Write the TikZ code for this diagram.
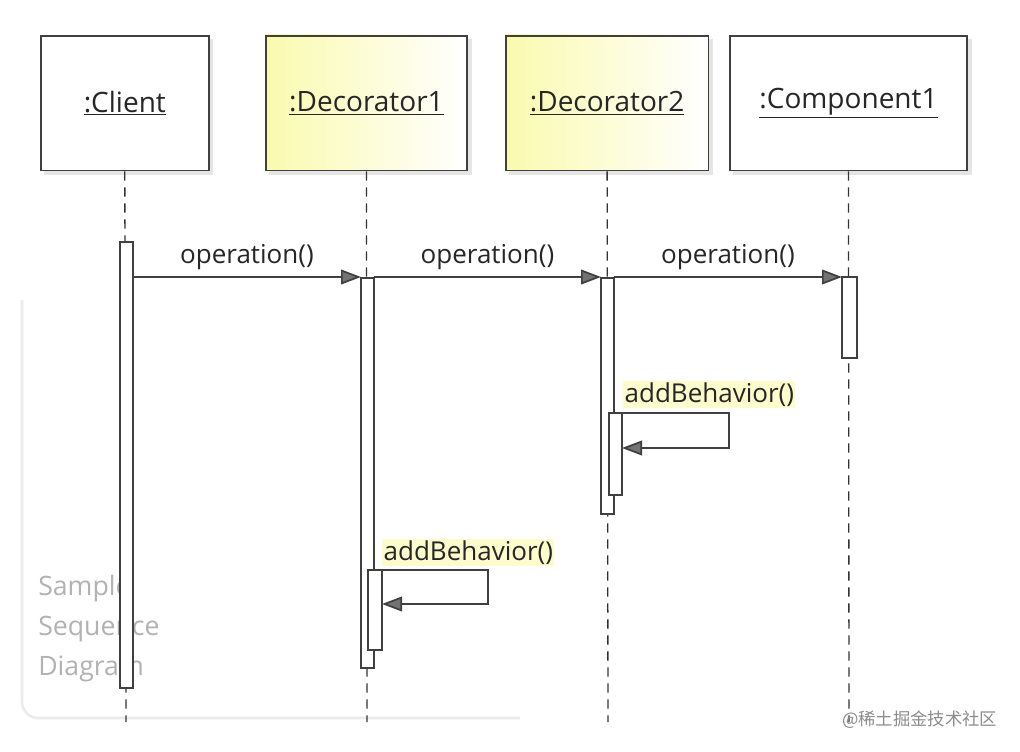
\documentclass[tikz,border=0pt]{standalone}
\usepackage{fontspec}
\setmainfont{Open Sans}
\newfontfamily\cjk{Noto Sans CJK SC}
\usetikzlibrary{arrows.meta}
\definecolor{ylw}{RGB}{250,250,175}
\definecolor{hl}{RGB}{252,252,205}
\tikzset{
 obj/.style={draw=black!75,line width=1.2pt},
 life/.style={draw=black!80,dashed,dash pattern=on 7pt off 5pt,line width=1pt},
 act/.style={draw=black!75,fill=white,line width=1pt},
 msg/.style={draw=black!75,line width=1.3pt,-{Triangle[length=15pt,width=11pt,fill=black!55]}},
 lbl/.style={font=\fontsize{19.5}{22}\selectfont,text=black!85,inner sep=1pt},
 ttl/.style={font=\fontsize{21}{24}\selectfont,text=black!85}
}
\begin{document}
\begin{tikzpicture}[x=0.75pt,y=-0.75pt]
\useasboundingbox (0,0) rectangle (1020,752);
\fill[white] (0,0) rectangle (1020,752);
\draw[black!8,line width=2pt,rounded corners=12pt] (22,300) -- (22,718) -- (520,718);
\foreach \a/\b in {40/208,265/467,505/708,729/967}{
 \fill[black!10] (\a+4,39) rectangle (\b+5,175);}
\node[obj,fill=white,minimum width=126pt,minimum height=101pt,anchor=north west] (cl) at (40,35) {};
\shade[left color=ylw,right color=white] (265,35) rectangle (467,170);
\node[obj,minimum width=151pt,minimum height=101pt,anchor=north west] (d1) at (265,35) {};
\shade[left color=ylw,right color=white] (505,35) rectangle (708,170);
\node[obj,minimum width=152pt,minimum height=101pt,anchor=north west] (d2) at (505,35) {};
\node[obj,fill=white,minimum width=178pt,minimum height=101pt,anchor=north west] (c1) at (729,35) {};
\node[ttl] at (cl.center) {\underline{:Client}};
\node[ttl] at (d1.center) {\underline{:Decorator1}};
\node[ttl] at (d2.center) {\underline{:Decorator2}};
\node[ttl] at (c1.center) {\underline{:Component1}};
\coordinate (e1) at (126,722); \coordinate (e2) at (367,722);
\coordinate (e3) at (608,722); \coordinate (e4) at (849,722);
\draw[life] (cl.south) -- (e1);
\draw[life] (d1.south) -- (e2);
\draw[life] (d2.south) -- (e3);
\draw[life] (c1.south) -- (e4);
\node[font=\fontsize{20}{30}\selectfont,text=black!30,align=left,anchor=north west,inner sep=0pt] (smp) at (38,575) {Sample\\Sequence\\Diagram};
\draw[act] (120,242) rectangle (133,688);
\draw[act] (361,278) rectangle (374,668);
\draw[act] (601,278) rectangle (614,514);
\draw[act] (842,277) rectangle (857,358);
\draw[act] (609,413) rectangle (622,495);
\draw[act] (368,570) rectangle (382,650);
\coordinate (a1) at (133,277); \coordinate (b1) at (361,277);
\coordinate (a2) at (374,277); \coordinate (b2) at (601,277);
\coordinate (a3) at (614,277); \coordinate (b3) at (842,277);
\draw[msg] (a1) -- node[lbl,above=4pt] {operation()} (b1);
\draw[msg] (a2) -- node[lbl,above=4pt] {operation()} (b2);
\draw[msg] (a3) -- node[lbl,above=4pt] {operation()} (b3);
\coordinate (s1) at (622,413); \coordinate (t1) at (622,448);
\draw[msg] (s1) -- (729,413) -- (729,448) -- (t1);
\node[lbl,fill=hl,anchor=south west] at (623,408) {addBehavior()};
\coordinate (s2) at (382,570); \coordinate (t2) at (382,604);
\draw[msg] (s2) -- (488,570) -- (488,604) -- (t2);
\node[lbl,fill=hl,anchor=south west] at (382,566) {addBehavior()};
\node[text=black!45,font=\cjk\fontsize{13}{15}\selectfont,anchor=east] at (1002,720) {@稀土掘金技术社区};
\end{tikzpicture}
\end{document}
